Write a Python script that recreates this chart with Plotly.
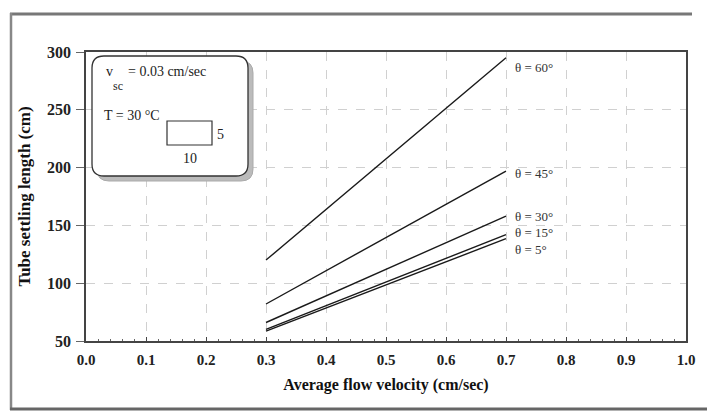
import plotly.graph_objects as go

velocity = [0.3, 0.7]
angles = ["θ = 60°", "θ = 45°", "θ = 30°", "θ = 15°", "θ = 5°"]
length_60 = [120, 295]
length_45 = [82, 197]
length_30 = [66, 158]
length_15 = [60, 142]
length_5 = [58.5, 138.5]
series = [length_60, length_45, length_30, length_15, length_5]
label_y = [287, 195, 158, 144, 129]

x_ticks = [0.0, 0.1, 0.2, 0.3, 0.4, 0.5, 0.6, 0.7, 0.8, 0.9, 1.0]
y_ticks = [50, 100, 150, 200, 250, 300]

W, H = 707, 412
L, R, T, B = 86, 21, 52, 71
pw, ph = W - L - R, H - T - B

def px(x):
    return (x - L) / pw

def py(y):
    return (H - B - y) / ph

serif = "Liberation Serif"

fig = go.Figure()
for name, vals in zip(angles, series):
    fig.add_trace(go.Scatter(x=velocity, y=vals, mode="lines", name=name,
                             line=dict(color="#1a1a1a", width=1.4), showlegend=False))

for name, vals, ly in zip(angles, series, label_y):
    fig.add_annotation(x=velocity[-1], y=ly, text=name, showarrow=False,
                       xanchor="left", xshift=7,
                       font=dict(family=serif, size=13, color="#333"))

fig.update_layout(
    width=W, height=H,
    margin=dict(l=L, r=R, t=T, b=B),
    paper_bgcolor="white", plot_bgcolor="white",
    xaxis=dict(range=[0, 1.0], tickvals=x_ticks, ticktext=[f"{v:.1f}" for v in x_ticks],
               showgrid=True, gridcolor="#d0d0d0", griddash="dash", gridwidth=1,
               showline=True, linecolor="#444", linewidth=1.5, mirror=True,
               ticks="inside", ticklen=4, tickcolor="#444",
               minor=dict(dtick=0.02, ticks="inside", ticklen=2, tickcolor="#666", showgrid=False),
               tickfont=dict(family=serif, size=15, color="#222", weight="bold"),
               ticklabelstandoff=4,
               title=dict(text="Average flow velocity (cm/sec)", standoff=12,
                          font=dict(family=serif, size=16, color="#111", weight="bold")),
               zeroline=False),
    yaxis=dict(range=[50, 300], tickvals=y_ticks,
               showgrid=True, gridcolor="#d0d0d0", griddash="dash", gridwidth=1,
               showline=True, linecolor="#444", linewidth=1.5, mirror=True,
               ticks="outside", ticklen=8, tickcolor="#666",
               tickfont=dict(family=serif, size=16, color="#222", weight="bold"),
               ticklabelstandoff=2,
               title=dict(text="Tube settling length (cm)", standoff=12,
                          font=dict(family=serif, size=17, color="#111", weight="bold")),
               zeroline=False),
)

# outer scan frame
fig.add_shape(type="line", xref="paper", yref="paper", x0=px(10), x1=px(692), y0=py(14), y1=py(14),
              line=dict(color="#777", width=3))
fig.add_shape(type="line", xref="paper", yref="paper", x0=px(11), x1=px(11), y0=py(13), y1=py(410),
              line=dict(color="#888", width=2.5))
fig.add_shape(type="line", xref="paper", yref="paper", x0=px(10), x1=px(707), y0=py(409), y1=py(409),
              line=dict(color="#666", width=3))

# rounded info box with shadow
def rounded(x0, y0, x1, y1, r):
    X0, X1 = px(x0), px(x1)
    Y0, Y1 = py(y0), py(y1)
    rx, ry = r / pw, r / ph
    return (f"M {X0+rx},{Y0} L {X1-rx},{Y0} Q {X1},{Y0} {X1},{Y0-ry} "
            f"L {X1},{Y1+ry} Q {X1},{Y1} {X1-rx},{Y1} L {X0+rx},{Y1} "
            f"Q {X0},{Y1} {X0},{Y1+ry} L {X0},{Y0-ry} Q {X0},{Y0} {X0+rx},{Y0} Z")

fig.add_shape(type="path", xref="paper", yref="paper", path=rounded(97, 61, 253, 181, 12),
              fillcolor="#bbbbbb", line=dict(color="#aaa", width=1), layer="above")
fig.add_shape(type="path", xref="paper", yref="paper", path=rounded(92, 56, 248, 176, 12),
              fillcolor="white", line=dict(color="#333", width=1.3), layer="above")
fig.add_shape(type="rect", xref="paper", yref="paper", x0=px(167), x1=px(212), y0=py(121), y1=py(145),
              line=dict(color="#333", width=1.2), layer="above")

def txt(x, y, s, size=14, anchor="left"):
    fig.add_annotation(xref="paper", yref="paper", x=px(x), y=py(y), text=s, showarrow=False,
                       xanchor=anchor, yanchor="middle",
                       font=dict(family=serif, size=size, color="#222"))

txt(104, 72, "v")
txt(111, 86, "sc", size=12)
txt(126, 72, "= 0.03 cm/sec")
txt(102, 116, "T = 30 °C")
txt(215, 134, "5")
txt(190, 158, "10", anchor="center")

fig.write_html("out.html", config={"displayModeBar": False},
               post_script="document.body.style.margin='0';document.body.style.overflow='hidden';")
